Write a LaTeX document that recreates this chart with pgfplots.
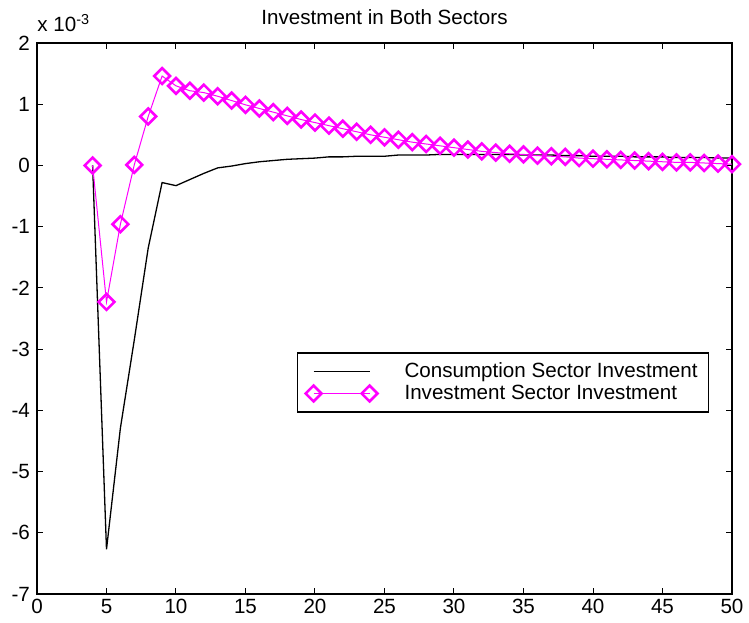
\documentclass[border=0pt]{standalone}
\usepackage{pgfplots}
\pgfplotsset{compat=1.18}
\usetikzlibrary{calc}
\usepackage{fontspec}
\setmainfont{Liberation Sans}
\definecolor{mmag}{RGB}{255,0,255}

\begin{document}
\begin{tikzpicture}
\begin{axis}[
  scale only axis,
  width=347.5pt, height=275.5pt,
  xmin=0, xmax=50, ymin=-7, ymax=2,
  xtick={0,5,...,50}, ytick={-7,-6,...,2},
  tick align=inside,
  major tick length=3pt,
  axis line style={line width=0.7pt},
  every tick/.style={black, line width=0.5pt},
  font=\fontsize{10.3}{12}\selectfont,
  /pgf/number format/assume math mode=true,
  xticklabel style={yshift=1pt},
  title={Investment in Both Sectors},
  title style={yshift=-0.5pt},
  legend style={at={(axis cs:18.7,-3.05)}, anchor=north west,
    draw=black, line width=0.7pt, inner xsep=4pt, inner ysep=3.5pt,
    row sep=-1pt, font=\fontsize{10.3}{12}\selectfont,
    nodes={inner sep=1.5pt}},
  legend cell align=left,
  legend image code/.code={
    \draw[#1] plot coordinates {(0pt,0pt) (28pt,0pt)};
    \path[draw=none] (0pt,0pt) -- (44pt,0pt);
  },
]
\addplot[black, line width=0.65pt] coordinates {
(4,0) (5,-6.27) (6,-4.29) (7,-2.85) (8,-1.35) (9,-0.28) (10,-0.33)
(11,-0.23) (12,-0.13) (13,-0.04) (14,-0.01) (15,0.03) (16,0.06)
(17,0.08) (18,0.10) (19,0.11) (20,0.12) (21,0.14) (22,0.14) (23,0.15)
(24,0.15) (25,0.15) (26,0.17) (27,0.17) (28,0.17) (29,0.18) (30,0.18)
(31,0.18) (32,0.18) (33,0.18) (34,0.18) (35,0.17) (36,0.17) (37,0.17)
(38,0.16) (39,0.16) (40,0.15) (41,0.15) (42,0.15) (43,0.14) (44,0.14)
(45,0.14) (46,0.13) (47,0.13) (48,0.13) (49,0.12) (50,0.12)
};
\addlegendentry{Consumption Sector Investment}
\addplot[mmag, line width=0.5pt, mark=square,
  mark options={rotate=45, line width=1.3pt, solid}, mark size=2.8pt] coordinates {
(4,0) (5,-2.23) (6,-0.96) (7,0.01) (8,0.80) (9,1.46) (10,1.30)
(11,1.22) (12,1.19) (13,1.13) (14,1.06) (15,0.99) (16,0.93) (17,0.87)
(18,0.81) (19,0.75) (20,0.70) (21,0.65) (22,0.60) (23,0.55) (24,0.50)
(25,0.46) (26,0.42) (27,0.38) (28,0.35) (29,0.32) (30,0.29) (31,0.26)
(32,0.23) (33,0.21) (34,0.19) (35,0.18) (36,0.16) (37,0.15) (38,0.14)
(39,0.12) (40,0.11) (41,0.10) (42,0.09) (43,0.08) (44,0.07) (45,0.06)
(46,0.05) (47,0.05) (48,0.04) (49,0.03) (50,0.02)
};
\addlegendentry{Investment Sector Investment}
\end{axis}
\node[anchor=base west, font=\fontsize{10.3}{12}\selectfont, inner sep=0pt]
  at ($(current axis.north west)+(0pt,5.5pt)$) {x 10\textsuperscript{-3}};
\pgfresetboundingbox
\useasboundingbox ($(current axis.south west)+(-18.5pt,-14.5pt)$)
  rectangle ($(current axis.north east)+(8.5pt,21.5pt)$);
\end{tikzpicture}
\end{document}
